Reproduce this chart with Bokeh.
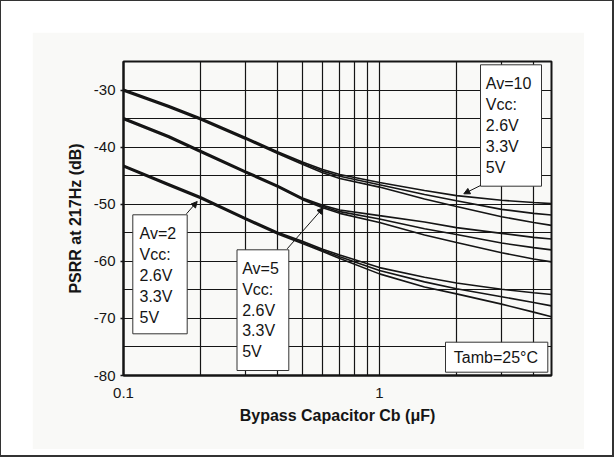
import math
from bokeh.plotting import figure
from bokeh.models import (FixedTicker, BoxAnnotation, Label, Arrow, NormalHead,
                          Range1d, Spacer, CustomJSTickFormatter)
from bokeh.layouts import column, row
from bokeh.embed import file_html
from bokeh.resources import INLINE

# ---------------- data ----------------
cap_uF = [0.1, 0.15, 0.2, 0.3, 0.4, 0.5, 0.6, 0.7, 1.0, 1.5, 2.0, 3.0, 4.0, 4.7]

av10_26 = [-29.85, -32.7, -34.9, -38.3, -40.8, -42.6, -43.9, -44.8, -46.2, -47.6, -48.5, -49.3, -49.7, -49.9]
av10_33 = [-30.0, -32.85, -35.05, -38.45, -40.95, -42.8, -44.2, -45.1, -46.6, -48.3, -49.4, -50.9, -51.6, -51.9]
av10_50 = [-30.15, -33.0, -35.2, -38.6, -41.1, -43.0, -44.5, -45.5, -47.0, -49.1, -50.4, -52.2, -53.2, -53.7]

av5_26 = [-34.85, -38.0, -40.6, -44.2, -46.7, -48.9, -50.2, -51.0, -52.0, -53.1, -54.1, -55.1, -55.8, -56.1]
av5_33 = [-35.0, -38.15, -40.75, -44.35, -46.85, -49.05, -50.4, -51.3, -52.6, -54.3, -55.3, -56.8, -57.6, -58.0]
av5_50 = [-35.15, -38.3, -40.9, -44.5, -47.0, -49.2, -50.6, -51.6, -53.2, -55.4, -56.7, -58.5, -59.6, -60.1]

av2_26 = [-43.15, -46.4, -48.7, -52.4, -54.9, -56.5, -57.9, -58.9, -61.1, -62.8, -63.8, -64.9, -65.5, -65.8]
av2_33 = [-43.3, -46.55, -48.85, -52.55, -55.05, -56.7, -58.1, -59.2, -61.6, -63.6, -64.8, -66.2, -67.2, -67.8]
av2_50 = [-43.45, -46.7, -49.0, -52.7, -55.2, -56.9, -58.3, -59.5, -62.2, -64.5, -65.7, -67.5, -68.9, -69.7]

series = [av10_26, av10_33, av10_50, av5_26, av5_33, av5_50, av2_26, av2_33, av2_50]

x_label_ticks = [0.1, 1]
x_grid_ticks = [0.1, 0.2, 0.3, 0.4, 0.5, 0.6, 0.7, 0.8, 0.9, 1, 2, 3, 4]
y_label_ticks = [-80, -70, -60, -50, -40, -30]
y_grid_ticks = [-80, -75, -70, -65, -60, -55, -50, -45, -40, -35, -30]

x_min, x_max = 0.1, 4.7
y_min, y_max = -80, -25

# ---------------- figure ----------------
FW, FH = 428, 314
GRAY = "#f9f9f7"
INK = "#151515"
FONT = "Liberation Sans"

p = figure(x_axis_type="log", x_range=Range1d(x_min, x_max), y_range=Range1d(y_min, y_max),
           frame_width=FW, frame_height=FH,
           min_border_left=91, min_border_right=33, min_border_top=29, min_border_bottom=74,
           output_backend="svg", toolbar_location=None)
p.background_fill_color = GRAY
p.border_fill_color = GRAY
p.outline_line_color = INK
p.outline_line_width = 2

p.xaxis.ticker = FixedTicker(ticks=x_label_ticks, minor_ticks=[])
p.xaxis.formatter = CustomJSTickFormatter(code="return tick < 1 ? tick.toFixed(1) : tick.toFixed(0);")
p.yaxis.ticker = FixedTicker(ticks=y_label_ticks, minor_ticks=[])
p.yaxis.formatter = CustomJSTickFormatter(code="return tick.toFixed(0);")
p.xgrid.ticker = FixedTicker(ticks=x_grid_ticks)
p.ygrid.ticker = FixedTicker(ticks=y_grid_ticks)
for g in (p.xgrid, p.ygrid):
    g.grid_line_color = INK
    g.grid_line_width = 1.2
    g.grid_line_alpha = 1

for ax in p.axis:
    ax.axis_line_color = INK
    ax.axis_line_width = 2
    ax.major_tick_line_color = INK
    ax.major_tick_line_width = 1.5
    ax.minor_tick_line_color = None
    ax.major_label_text_font = FONT
    ax.major_label_text_font_size = "15px"
    ax.major_label_text_color = INK
    ax.axis_label_text_font = FONT
    ax.axis_label_text_font_size = "16px"
    ax.axis_label_text_font_style = "bold"
    ax.axis_label_text_color = INK

p.xaxis.major_tick_out = 0
p.xaxis.major_tick_in = 0
p.xaxis.major_label_standoff = 12
p.xaxis.axis_label_standoff = 6
p.yaxis.major_tick_out = 3
p.yaxis.major_tick_in = 0
p.yaxis.major_label_standoff = 5
p.yaxis.axis_label_standoff = 7
p.xaxis.axis_label = "Bypass Capacitor Cb (\u03bcF)"
p.yaxis.axis_label = "PSRR at 217Hz (dB)"

for s in series:
    p.line(cap_uF, s, line_color=INK, line_width=1.6)

# ---------------- annotations (positions in frame pixels) ----------------
def xd(fx):
    return x_min * 10 ** (fx / FW * math.log10(x_max / x_min))

def yd(fy):
    return y_max - fy / FH * (y_max - y_min)

boxes = [
    (357, 418, 3.3, 124.7, 362.3, 22.3, 20.8, ["Av=10", "Vcc:", "2.6V", "3.3V", "5V"]),
    (9.3, 63.7, 153.3, 272.3, 16, 171.7, 21.0, ["Av=2", "Vcc:", "2.6V", "3.3V", "5V"]),
    (113.5, 165.3, 188.3, 309, 118.7, 207.3, 20.7, ["Av=5", "Vcc:", "2.6V", "3.3V", "5V"]),
    (322, 424.3, 280.7, 310.7, 330.3, 295.7, 0, ["Tamb=25\u00b0C"]),
]
arrows = [
    (63, 152.3, 73.7, 140),
    (163.7, 187.3, 199.7, 146.3),
    (357, 124, 340.3, 132.3),
]

for (l, r, t, b, tx, ty0, step, lines) in boxes:
    p.add_layout(BoxAnnotation(left=xd(l), right=xd(r), top=yd(t), bottom=yd(b),
                               fill_color="white", fill_alpha=1,
                               line_color="#333333", line_width=1, line_alpha=1))
for (l, r, t, b, tx, ty0, step, lines) in boxes:
    for i, txt in enumerate(lines):
        p.add_layout(Label(x=xd(tx), y=yd(ty0 + i * step), text=txt,
                           text_font=FONT, text_font_size="16px", text_color=INK,
                           text_align="left", text_baseline="middle"))
for (x0, y0, x1, y1) in arrows:
    p.add_layout(Arrow(x_start=xd(x0), y_start=yd(y0), x_end=xd(x1), y_end=yd(y1),
                       line_color=INK, line_width=1,
                       end=NormalHead(size=6, fill_color=INK, line_color=INK, line_width=1)))

layout = column(Spacer(width=584, height=32),
                row(Spacer(width=32, height=417), p),
                width=613, height=456,
                styles={"outline": "2px solid #333333", "outline-offset": "-1px",
                        "background-color": "white"})

open("out.html", "w").write(file_html(layout, INLINE))
